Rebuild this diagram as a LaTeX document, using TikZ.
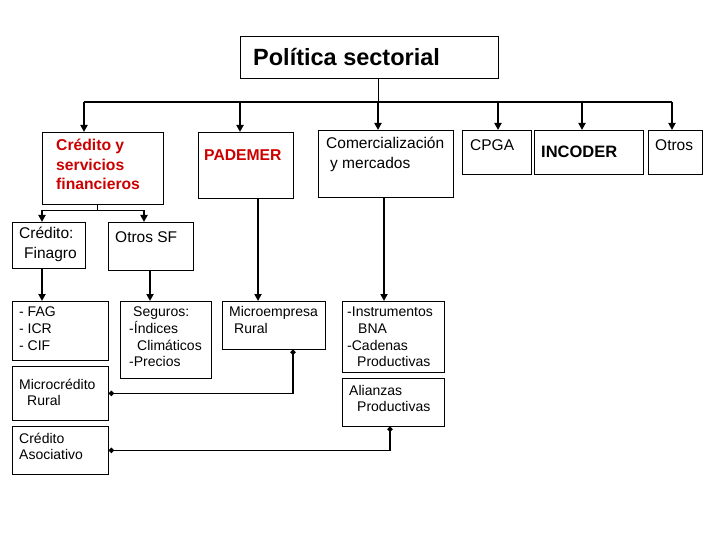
\documentclass[tikz,border=0pt]{standalone}
\usepackage{fontspec}
\setmainfont{Liberation Sans}
\usepackage{tikz}
\usetikzlibrary{positioning, arrows.meta, calc}
\usepackage{xcolor}
\definecolor{sectorred}{RGB}{204, 0, 0}

\tikzset{
  box/.style={draw, line width=0.8pt, anchor=north west, inner sep=0pt},
  txt/.style={anchor=west, align=left, inner sep=0pt},
  lower/.style={font=\fontsize{14}{16.7}\selectfont},
  mid/.style={font=\fontsize{15.5}{19.2}\selectfont},
  redb/.style={text=sectorred, font=\bfseries\fontsize{15.7}{19.5}\selectfont},
  link/.style={line width=0.8pt},
  bus/.style={line width=1.8pt},
  arr/.style={line width=1.8pt, -{Triangle[length=7pt, width=7pt]}},
  dotlink/.style={line width=1.8pt, {Circle[length=5pt]}-{Circle[length=5pt]}}
}

\begin{document}
\begin{tikzpicture}[x=1pt, y=-1pt]
  \useasboundingbox (0,0) rectangle (720,540);

  % boxes
  \node[box, minimum width=258pt, minimum height=42pt] (pol) at (240,36) {};
  \node[box, minimum width=121pt, minimum height=72pt] (cred) at (42,132) {};
  \node[box, minimum width=95pt, minimum height=66pt] (pad) at (198,132) {};
  \node[box, minimum width=135pt, minimum height=67pt] (com) at (318,130) {};
  \node[box, minimum width=69pt, minimum height=44pt] (cpga) at (462,130) {};
  \node[box, minimum width=109pt, minimum height=44pt] (inc) at (534,130) {};
  \node[box, minimum width=54pt, minimum height=44pt] (otr) at (648,130) {};
  \node[box, minimum width=73pt, minimum height=46pt] (fin) at (12,222) {};
  \node[box, minimum width=85pt, minimum height=48pt] (osf) at (108,222) {};
  \node[box, minimum width=96pt, minimum height=59pt] (fag) at (12,301) {};
  \node[box, minimum width=91pt, minimum height=77pt] (seg) at (120,301) {};
  \node[box, minimum width=103pt, minimum height=48pt] (mic) at (222,301) {};
  \node[box, minimum width=102pt, minimum height=71pt] (ins) at (342,301) {};
  \node[box, minimum width=96pt, minimum height=54pt] (mcr) at (12,366) {};
  \node[box, minimum width=102pt, minimum height=48pt] (ali) at (342,378) {};
  \node[box, minimum width=96pt, minimum height=48pt] (aso) at (12,426) {};

  % texts
  \node[txt, font=\bfseries\fontsize{23.5}{27}\selectfont] (t-pol) at (253,57) {Política sectorial};
  \node[txt, redb] (t-cred) at (56,164.5) {Crédito y\\servicios\\financieros};
  \node[txt, redb] (t-pad) at (204,155) {PADEMER};
  \node[txt, mid] (t-com) at (326,154.5) {Comercialización\\\hspace*{4pt}y mercados};
  \node[txt, mid] (t-cpga) at (470,145) {CPGA};
  \node[txt, font=\bfseries\fontsize{16.5}{19}\selectfont] (t-inc) at (541,152) {INCODER};
  \node[txt, mid] (t-otr) at (655,145) {Otros};
  \node[txt, mid] (t-fin) at (19,244.5) {Crédito:\\\hspace*{5pt}Finagro};
  \node[txt, mid] (t-osf) at (115,237) {Otros SF};
  \node[txt, lower] (t-fag) at (19,328.5) {- FAG\\- ICR\\- CIF};
  \node[txt, lower] (t-seg) at (129,337) {\hspace*{4pt}Seguros:\\-Índices\\\hspace*{8pt}Climáticos\\-Precios};
  \node[txt, lower] (t-mic) at (229,320) {Microempresa\\\hspace*{5pt}Rural};
  \node[txt, lower] (t-ins) at (347,337) {-Instrumentos\\\hspace*{11pt}BNA\\-Cadenas\\\hspace*{10pt}Productivas};
  \node[txt, lower] (t-mcr) at (19,392.5) {Microcrédito\\\hspace*{8pt}Rural};
  \node[txt, lower] (t-ali) at (349,398.5) {Alianzas\\\hspace*{8pt}Productivas};
  \node[txt, lower] (t-aso) at (19,446.5) {Crédito\\Asociativo};

  % top bus
  \coordinate (hub) at (378,102);
  \draw[link] (pol.south -| hub) -- (hub);
  \draw[bus] (84,102) -- (672,102);
  \foreach \x/\n in {84/cred, 240/pad, 378/com, 498/cpga, 582/inc, 672/otr}
    \draw[arr] (\x,102) -- (\x,0 |- \n.north);

  % credit split
  \coordinate (split) at (97,210);
  \draw[link] (cred.south -| split) -- (split);
  \draw[link] (42,210) -- (144,210);
  \draw[arr] (42,210) -- (42,0 |- fin.north);
  \draw[arr] (144,210) -- (144,0 |- osf.north);

  % down arrows
  \draw[arr] (42,0 |- fin.south) -- (42,0 |- fag.north);
  \draw[arr] (150,0 |- osf.south) -- (150,0 |- seg.north);
  \draw[arr] (258,0 |- pad.south) -- (258,0 |- mic.north);
  \draw[arr] (384,0 |- com.south) -- (384,0 |- ins.north);

  % cross links
  \draw[dotlink] (293,0 |- mic.south) |- (mcr.east);
  \draw[dotlink] (390,0 |- ali.south) |- (aso.east);
\end{tikzpicture}
\end{document}
